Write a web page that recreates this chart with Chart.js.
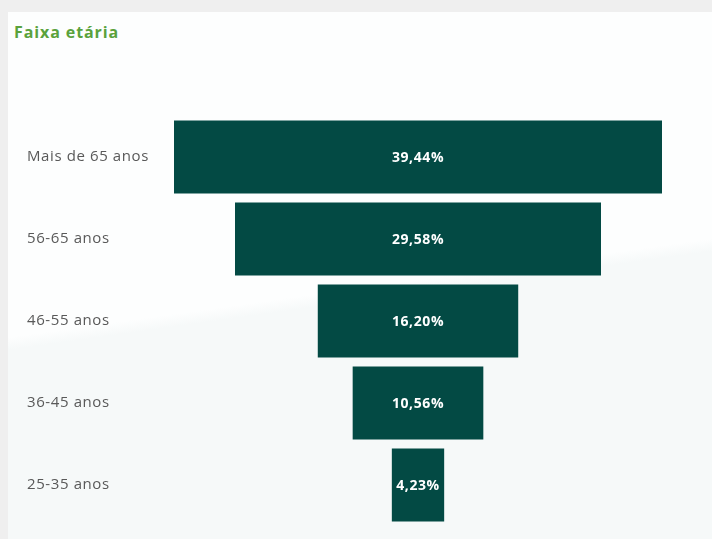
<!DOCTYPE html>
<html>
<head>
<meta charset="utf-8">
<script src="https://cdn.jsdelivr.net/npm/chart.js@4.4.1/dist/chart.umd.min.js"></script>
<style>
    html, body { margin: 0; padding: 0; background: #efefef; }
    #wrap { position: relative; width: 712px; height: 539px; overflow: hidden; }
    #card {
        position: absolute; left: 8px; top: 12px; right: 0; bottom: 0;
        background: linear-gradient(172deg, #fdfefe 0%, #fdfefe 52%, #f6f9f9 54%, #f6f9f9 100%);
    }
    #title {
        position: absolute; left: 14px; top: 21px;
        font-family: "Open Sans", sans-serif; font-weight: bold; font-size: 16px;
        letter-spacing: 0.9px;
        color: #5aa23c;
    }
    canvas { position: absolute; left: 0; top: 0; }
</style>
</head>
<body>
<div id="wrap">
    <div id="card"></div>
    <div id="title">Faixa etária</div>
    <canvas id="funnel" width="712" height="539"></canvas>
</div>
<script>
// ----------------------------Data----------------------------
const categories = ['Mais de 65 anos', '56-65 anos', '46-55 anos', '36-45 anos', '25-35 anos'];
const percentages = [39.44, 29.58, 16.20, 10.56, 4.23];

// funnel: each bar centered on zero
const halfMax = Math.max(...percentages) / 2;
const floating = percentages.map(v => [-v / 2, v / 2]);

function formatPct(v) {
    return v.toFixed(2).replace('.', ',') + '%';
}

// the reference text is a bit wider, spread the letters a little
const spacing = {
    id: 'spacing',
    beforeDraw(chart) {
        chart.ctx.letterSpacing = '0.6px';
    }
};

// draws value text in the middle of each bar
const barLabels = {
    id: 'barLabels',
    afterDatasetsDraw(chart) {
        const ctx = chart.ctx;
        const meta = chart.getDatasetMeta(0);
        ctx.save();
        ctx.letterSpacing = '0.6px';
        ctx.fillStyle = '#ffffff';
        ctx.font = 'bold 14px "Open Sans", sans-serif';
        ctx.textAlign = 'center';
        ctx.textBaseline = 'middle';
        meta.data.forEach((bar, i) => {
            const cx = (bar.x + bar.base) / 2;
            ctx.fillText(formatPct(percentages[i]), cx, bar.y + 1);
        });
        ctx.restore();
    }
};

document.addEventListener('DOMContentLoaded', function() {
    const ctx = document.getElementById('funnel');
    new Chart(ctx, {
        type: 'bar',
        data: {
            labels: categories,
            datasets: [{
                data: floating,
                backgroundColor: '#034a44',
                borderWidth: 0,
                barPercentage: 0.89,
                categoryPercentage: 1
            }]
        },
        options: {
            indexAxis: 'y',
            responsive: false,
            animation: false,
            layout: { padding: { left: 27, top: 116, bottom: 13, right: 50 } },
            plugins: {
                legend: { display: false },
                tooltip: { enabled: false }
            },
            scales: {
                x: { display: false, min: -halfMax, max: halfMax },
                y: {
                    grid: { display: false },
                    border: { display: false },
                    afterFit(scale) { scale.width = 147; },
                    ticks: {
                        crossAlign: 'far',
                        padding: 0,
                        color: '#595959',
                        font: { family: '"Open Sans", sans-serif', size: 15 }
                    }
                }
            }
        },
        plugins: [spacing, barLabels]
    });
});
</script>
</body>
</html>
